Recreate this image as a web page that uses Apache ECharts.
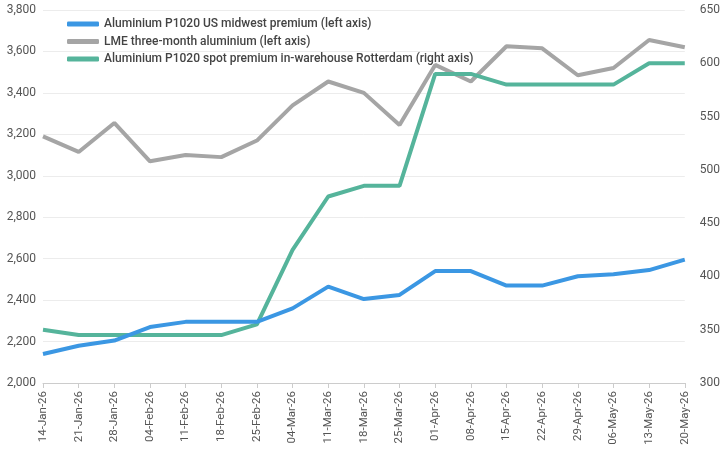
<!DOCTYPE html>
<html><head><meta charset="utf-8">
<script src="https://cdn.jsdelivr.net/npm/echarts@6/dist/echarts.min.js"></script>
<style>html,body{margin:0;padding:0;background:#fff}#c{width:723px;height:454px}</style>
</head><body><div id="c"></div>
<script>
const categories = ["14-Jan-26","21-Jan-26","28-Jan-26","04-Feb-26","11-Feb-26","18-Feb-26","25-Feb-26","04-Mar-26","11-Mar-26","18-Mar-26","25-Mar-26","01-Apr-26","08-Apr-26","15-Apr-26","22-Apr-26","29-Apr-26","06-May-26","13-May-26","20-May-26"];
const usMidwest = [2140,2180,2205,2270,2295,2295,2295,2360,2465,2405,2425,2540,2540,2470,2470,2515,2525,2545,2595];
const lmeThreeMonth = [3190,3115,3255,3070,3100,3090,3170,3340,3455,3400,3245,3535,3455,3625,3615,3485,3520,3655,3620];
const rotterdam = [350,345,345,345,345,345,355,425,475,485,485,590,590,580,580,580,580,600,600];
const names = ["Aluminium P1020 US midwest premium (left axis)","LME three-month aluminium (left axis)","Aluminium P1020 spot premium in-warehouse Rotterdam (right axis)"];

const chart = echarts.init(document.getElementById('c'));
const font = 'Roboto';
chart.setOption({
  animation:false,
  textStyle:{fontFamily:font},
  grid:{left:43,right:37,top:10,bottom:71},
  legend:{orient:'vertical',left:62,top:13,itemGap:5.5,itemWidth:32,itemHeight:5,icon:'roundRect',
    textStyle:{fontFamily:font,fontSize:12,fontWeight:500,color:'#444'},
    data:names},
  xAxis:{type:'category',data:categories,boundaryGap:false,
    axisLine:{lineStyle:{color:'#ccc'}},axisTick:{show:true,lineStyle:{color:'#ccc'}},
    axisLabel:{rotate:90,fontSize:11.5,color:'#555',fontFamily:font,interval:0,margin:8}},
  yAxis:[
    {type:'value',min:2000,max:3800,interval:200,
     axisLine:{show:false},axisTick:{show:false},
     splitLine:{lineStyle:{color:'#ececec'}},
     axisLabel:{fontSize:12,color:'#555',fontFamily:font,margin:7,
       formatter:v=>v.toLocaleString('en-US')}},
    {type:'value',min:300,max:650,interval:50,
     axisLine:{show:false},axisTick:{show:false},splitLine:{show:false},
     axisLabel:{fontSize:12,color:'#555',fontFamily:font,margin:15}}
  ],
  series:[
    {name:names[0],type:'line',data:usMidwest,yAxisIndex:0,symbol:'none',lineStyle:{width:4,color:'#3b97e3'},itemStyle:{color:'#3b97e3'},z:3},
    {name:names[1],type:'line',data:lmeThreeMonth,yAxisIndex:0,symbol:'none',lineStyle:{width:4,color:'#a5a5a5'},itemStyle:{color:'#a5a5a5'},z:1},
    {name:names[2],type:'line',data:rotterdam,yAxisIndex:1,symbol:'none',lineStyle:{width:4,color:'#55b49b'},itemStyle:{color:'#55b49b'},z:2}
  ]
});
</script></body></html>
